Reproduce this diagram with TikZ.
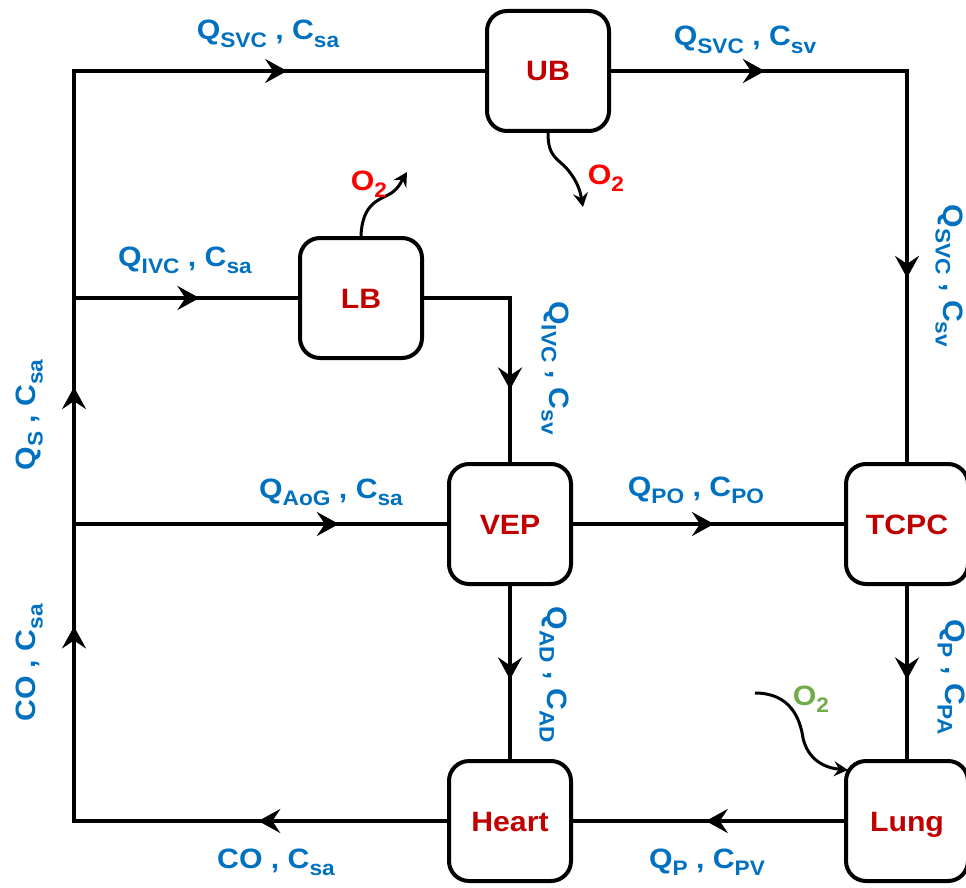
\documentclass[tikz,border=0pt]{standalone}
\usepackage{fontspec}
\setmainfont{Liberation Sans}[FakeStretch=1.08]
\usetikzlibrary{arrows.meta,decorations.markings}
\definecolor{lblue}{HTML}{0070C0}
\definecolor{dred}{HTML}{C00000}
\definecolor{ored}{HTML}{FF0000}
\definecolor{ogreen}{HTML}{70AD47}
\newcommand{\sbs}[1]{\raisebox{-7.5pt}{\fontsize{21}{21}\selectfont #1}}
\tikzset{
  flowtip/.tip={Stealth[length=22pt,width=24pt,inset=8pt]},
  block/.style={draw=black, line width=4pt, rounded corners=20pt, fill=white,
    minimum width=122pt, minimum height=120pt, inner sep=0pt, text=dred,
    text height=20pt, text depth=0pt,
    font=\fontsize{28}{30}\selectfont\bfseries},
  flow/.style={line width=4pt},
  arr/.style={postaction={decorate, decoration={markings,
    mark=at position #1 with {\arrow{flowtip}}}}},
  lab/.style={text=lblue, font=\fontsize{28}{30}\selectfont\bfseries,
    inner sep=0pt, anchor=base},
  oxy/.style={line width=3pt, -{Stealth[length=14pt,width=15pt,inset=5pt]}},
  oxlab/.style={font=\fontsize{28}{30}\selectfont\bfseries, inner sep=0pt, anchor=base},
}
\begin{document}
\begin{tikzpicture}[x=1pt,y=-1pt]
\useasboundingbox (0,0) rectangle (966,888);
% nodes
\node[block] (UB) at (548,71) {UB};
\node[block] (LB) at (361,298) {LB};
\node[block] (VEP) at (510,524) {VEP};
\node[block] (TCPC) at (907,524) {TCPC};
\node[block] (Heart) at (510,821) {Heart};
\node[block] (Lung) at (907,821) {Lung};
% bus coordinates
\coordinate (tl) at (74,71);
\coordinate (bl) at (74,821);
\coordinate (j1) at (74,298);
\coordinate (j2) at (74,524);
\coordinate (c1) at (907,71);
\coordinate (c2) at (510,298);
% connectors
\draw[flow, arr=0.123, arr=0.37, arr=0.526, arr=0.871] (Heart.west) -- (bl) -- (tl) -- (UB.west);
\draw[flow, arr=0.224, arr=0.732] (UB.east) -- (c1) -- (TCPC.north);
\draw[flow, arr=0.56] (j1) -- (LB.west);
\draw[flow, arr=0.71] (LB.east) -- (c2) -- (VEP.north);
\draw[flow, arr=0.71] (j2) -- (VEP.west);
\draw[flow, arr=0.52] (VEP.east) -- (TCPC.west);
\draw[flow, arr=0.54] (VEP.south) -- (Heart.north);
\draw[flow, arr=0.54] (TCPC.south) -- (Lung.north);
\draw[flow, arr=0.51] (Lung.west) -- (Heart.east);
% oxygen
\coordinate (o2lb) at (407,172);
\coordinate (o2ub) at (583,207);
\coordinate (o2src) at (755,693);
\coordinate (o2in) at (848,770);
\draw[oxy] (LB.north) .. controls (362,205) and (378,200) .. (388,195) .. controls (398,190) and (401,182) .. (o2lb);
\draw[oxy] (UB.south) .. controls (548,158) and (558,158) .. (568,170) .. controls (577,181) and (580,190) .. (o2ub);
\draw[oxy] (o2src) .. controls (790,693) and (800,718) .. (803,738) .. controls (808,760) and (825,768) .. (o2in);
\node[oxlab, text=ored] (ox1) at (369,190) {O\sbs{2}};
\node[oxlab, text=ored] (ox2) at (606,184) {O\sbs{2}};
\node[oxlab, text=ogreen] (ox3) at (811,705) {O\sbs{2}};
% labels
\node[lab] (l1) at (268,40) {Q\sbs{SVC} , C\sbs{sa}};
\node[lab] (l2) at (745,46) {Q\sbs{SVC} , C\sbs{sv}};
\node[lab] (l3) at (185,266) {Q\sbs{IVC} , C\sbs{sa}};
\node[lab] (l4) at (331,498) {Q\sbs{AoG} , C\sbs{sa}};
\node[lab] (l5) at (696,496) {Q\sbs{PO} , C\sbs{PO}};
\node[lab] (l6) at (276,868) {CO , C\sbs{sa}};
\node[lab] (l7) at (707,868) {Q\sbs{P} , C\sbs{PV}};
\node[lab, rotate=-90] (l8) at (943,276) {Q\sbs{SVC} , C\sbs{sv}};
\node[lab, rotate=-90] (l9) at (549,368) {Q\sbs{IVC} , C\sbs{sv}};
\node[lab, rotate=-90] (l10) at (547,675) {Q\sbs{AD} , C\sbs{AD}};
\node[lab, rotate=-90] (l11) at (945,677) {Q\sbs{P} , C\sbs{PA}};
\node[lab, rotate=90] (l12) at (35,415) {Q\sbs{S} , C\sbs{sa}};
\node[lab, rotate=90] (l13) at (35,663) {CO , C\sbs{sa}};
\end{tikzpicture}
\end{document}
